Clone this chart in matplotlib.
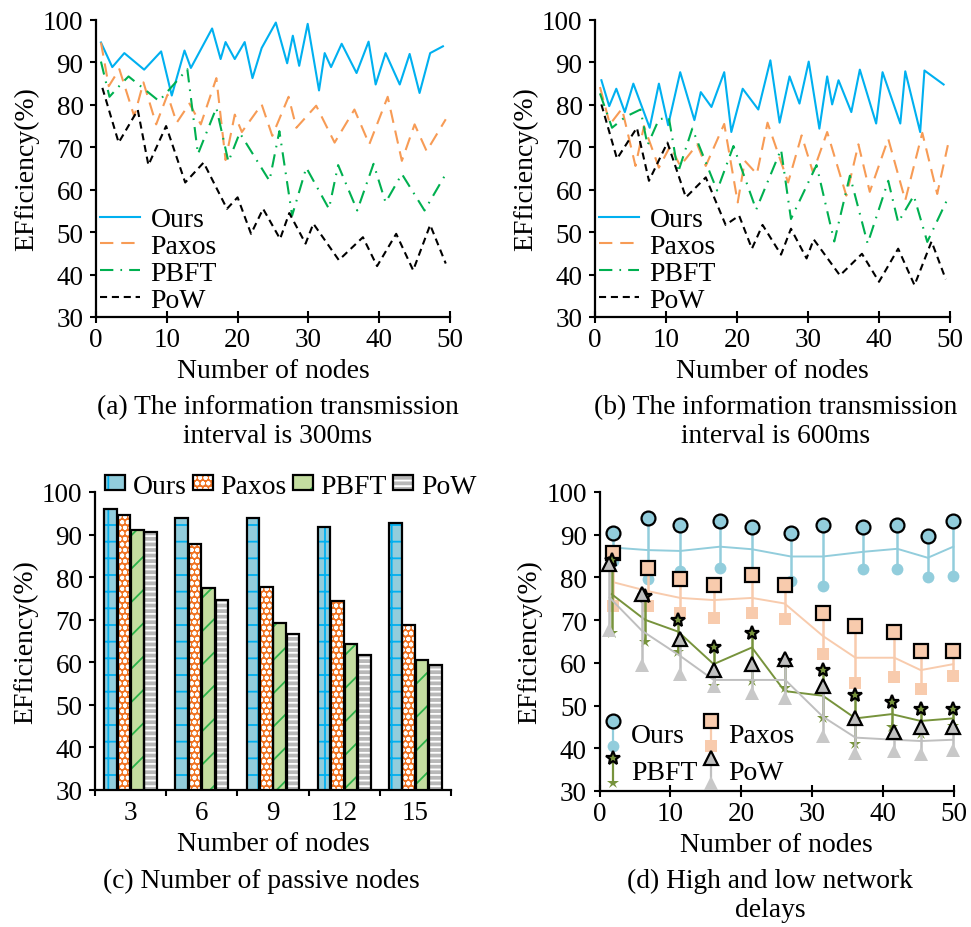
import matplotlib
matplotlib.use('Agg')
import matplotlib.pyplot as plt
from matplotlib.lines import Line2D
from matplotlib.patches import Patch
from matplotlib.legend_handler import HandlerBase

plt.rcParams['font.family'] = ['Liberation Serif', 'DejaVu Serif']
plt.rcParams['hatch.linewidth'] = 1.3

# ---------------- data: panel (a) 300 ms ----------------
a_ours_x = [0.7, 2.3, 4.0, 6.8, 9.2, 10.7, 12.5, 13.4, 16.4, 17.6, 18.3, 19.6, 21.0, 22.1, 23.4,
            25.4, 27.0, 27.8, 28.7, 29.9, 31.5, 32.3, 33.2, 34.7, 36.8, 38.5, 39.5, 40.9, 42.9,
            44.3, 45.7, 47.2, 49.0]
a_ours_y = [94.7, 88.9, 92.2, 88.3, 92.6, 82.2, 92.8, 88.7, 98.0, 90.8, 94.8, 90.8, 94.8, 86.3, 93.4,
            99.4, 89.8, 96.3, 89.2, 99.1, 83.4, 92.2, 88.9, 94.4, 87.5, 94.9, 84.8, 92.2, 84.8,
            92.0, 82.8, 92.2, 93.8]
a_paxos_x = [0.7, 1.8, 3.3, 5.4, 6.7, 8.5, 10.1, 11.4, 13.2, 14.8, 17.0, 18.3, 19.6, 20.6, 23.4,
             24.9, 27.2, 28.3, 31.1, 33.7, 36.5, 38.6, 41.2, 43.2, 45.0, 46.7, 49.4]
a_paxos_y = [94.7, 84.4, 88.4, 77.3, 85.3, 75.4, 82.4, 75.8, 80.3, 75.4, 86.3, 67.0, 77.7, 73.6, 80.1,
             72.7, 81.9, 74.6, 79.8, 71.1, 78.9, 70.7, 81.9, 66.8, 75.4, 69.1, 76.6]
a_pbft_x = [0.7, 1.9, 3.7, 4.6, 8.9, 12.9, 14.4, 17.0, 18.7, 20.3, 24.5, 25.9, 27.7, 29.7, 32.9,
            34.2, 36.9, 39.2, 40.9, 43.2, 46.4, 49.4]
a_pbft_y = [90.2, 81.9, 85.2, 86.7, 80.9, 88.4, 68.4, 79.3, 66.6, 73.4, 62.1, 73.8, 53.9, 65.2, 55.5,
            65.8, 55.1, 66.1, 57.0, 63.7, 55.1, 63.7]
a_pow_x = [0.9, 3.2, 5.9, 7.4, 9.9, 12.6, 15.2, 18.5, 20.0, 21.9, 23.6, 26.0, 27.3, 29.6, 30.7,
           34.3, 37.7, 39.7, 42.4, 44.8, 47.2, 49.4]
a_pow_y = [84.0, 71.1, 78.8, 65.8, 75.0, 61.7, 66.4, 55.5, 58.2, 49.6, 55.5, 48.4, 54.5, 47.3, 52.0,
           43.4, 48.8, 42.0, 49.6, 41.0, 51.7, 42.6]

# ---------------- data: panel (b) 600 ms ----------------
b_ours_x = [0.9, 2.0, 3.0, 4.2, 5.4, 7.7, 9.0, 10.3, 12.0, 14.0, 14.9, 16.4, 18.2, 19.2, 20.8,
            23.0, 24.7, 26.0, 27.4, 28.8, 30.1, 31.6, 32.7, 33.4, 34.3, 36.1, 37.3, 39.6, 40.5,
            43.0, 43.7, 45.8, 46.4, 49.1]
b_ours_y = [85.8, 79.7, 83.8, 78.3, 85.0, 74.6, 85.0, 75.2, 87.7, 76.4, 83.0, 79.5, 87.7, 73.6, 83.8,
            78.9, 90.5, 75.8, 86.7, 80.3, 90.2, 74.4, 86.7, 80.1, 85.8, 78.3, 88.3, 75.6, 87.7,
            75.6, 87.9, 73.6, 88.1, 84.8]
b_paxos_x = [0.7, 2.1, 3.8, 5.7, 6.9, 9.0, 10.6, 12.0, 14.4, 15.6, 18.2, 20.1, 21.1, 22.8, 24.3,
             27.2, 29.1, 30.7, 32.7, 35.4, 37.1, 38.7, 41.3, 43.7, 46.1, 48.2, 49.7]
b_paxos_y = [84.2, 75.4, 79.1, 65.6, 75.0, 65.2, 70.3, 65.6, 70.7, 65.6, 75.5, 57.0, 66.8, 63.7, 75.8,
             61.7, 72.8, 64.1, 73.6, 58.6, 70.7, 59.5, 72.0, 57.5, 73.4, 59.0, 70.5]
b_pbft_x = [0.7, 2.4, 4.3, 6.4, 7.4, 9.0, 10.4, 11.7, 13.7, 17.2, 19.5, 22.7, 26.2, 27.6, 31.2,
            33.7, 35.9, 38.4, 41.3, 42.7, 44.9, 46.8, 49.7]
b_pbft_y = [82.7, 74.6, 77.2, 78.9, 70.5, 76.6, 77.0, 64.1, 74.4, 59.8, 70.3, 55.3, 69.5, 53.1, 65.8,
            47.8, 63.3, 47.3, 62.1, 52.3, 58.6, 47.7, 58.0]
b_pow_x = [0.9, 3.1, 5.9, 7.6, 10.2, 12.8, 15.6, 18.4, 20.3, 22.1, 23.6, 26.2, 27.6, 29.8, 30.8,
           34.5, 37.6, 40.0, 42.7, 45.0, 47.4, 49.4]
b_pow_y = [80.1, 67.3, 74.6, 62.1, 71.1, 58.2, 62.9, 51.7, 53.9, 46.1, 51.7, 44.7, 50.8, 43.8, 48.3,
           39.8, 44.9, 38.3, 46.1, 37.5, 47.8, 38.9]

# ---------------- data: panel (c) passive nodes ----------------
c_categories = ['3', '6', '9', '12', '15']
c_ours = [95.9, 93.8, 94.0, 91.7, 92.8]
c_paxos = [94.7, 87.8, 77.7, 74.5, 68.8]
c_pbft = [91.0, 77.5, 69.2, 64.4, 60.6]
c_pow = [90.5, 74.7, 66.7, 61.7, 59.4]

# ---------------- data: panel (d) high / low delays ----------------
d_ours_x = [1.9, 6.8, 11.4, 17.0, 21.5, 27.0, 31.5, 37.2, 42.0, 46.3, 49.9]
d_ours_high = [90.5, 93.8, 92.3, 93.1, 91.9, 90.3, 92.2, 91.8, 92.3, 89.7, 93.1]
d_ours_low = [83.9, 79.7, 81.5, 82.3, 80.8, 79.2, 78.0, 81.9, 81.9, 80.0, 80.3]
d_ours_mid = [87.0, 86.4, 86.2, 87.2, 86.6, 84.9, 84.9, 86.0, 86.7, 84.6, 87.2]
d_paxos_x = [1.9, 6.8, 11.4, 16.1, 21.5, 26.1, 31.5, 36.1, 41.6, 45.3, 49.9]
d_paxos_high = [85.8, 82.1, 79.7, 78.2, 80.6, 78.2, 71.6, 68.6, 67.2, 62.8, 62.8]
d_paxos_low = [73.2, 73.2, 71.6, 70.6, 71.6, 70.2, 62.0, 55.2, 56.8, 53.8, 56.9]
d_paxos_mid = [78.9, 76.8, 75.2, 74.7, 75.2, 73.9, 66.3, 61.2, 61.2, 58.3, 59.7]
d_pbft_x = [1.7, 6.4, 11.1, 16.1, 21.5, 26.1, 31.5, 36.1, 41.2, 45.3, 49.9]
d_pbft_high = [84.1, 75.7, 70.1, 63.6, 67.1, 60.5, 58.3, 52.4, 50.8, 49.3, 49.3]
d_pbft_low = [67.1, 64.9, 62.6, 54.6, 55.8, 54.2, 47.2, 41.0, 44.9, 43.3, 45.3]
d_pbft_mid = [76.1, 70.1, 67.3, 59.7, 63.6, 53.4, 52.3, 47.0, 48.0, 46.4, 47.0]
d_pow_x = [1.4, 6.0, 11.4, 16.1, 21.5, 26.2, 31.5, 36.1, 41.6, 45.3, 49.9]
d_pow_high = [83.2, 76.1, 65.5, 58.3, 59.7, 60.8, 54.6, 47.2, 43.9, 44.9, 44.9]
d_pow_low = [67.7, 59.5, 57.3, 54.6, 53.0, 51.8, 42.9, 38.8, 39.4, 38.6, 39.6]
d_pow_mid = [75.3, 67.5, 61.6, 56.0, 56.0, 56.0, 47.4, 42.5, 42.0, 41.7, 42.0]

series_names = ['Ours', 'Paxos', 'PBFT', 'PoW']
y_ticks = [30, 40, 50, 60, 70, 80, 90, 100]
x_ticks = [0, 10, 20, 30, 40, 50]

# ---------------- styling ----------------
FS_TICK = 19.5
FS_LAB = 20
FS_LEG = 20
FS_CAP = 19.8

W, H = 971, 928
fig = plt.figure(figsize=(W / 100, H / 100), dpi=100)


def add_axes(l, t, r, b):
    return fig.add_axes([l / W, 1 - b / H, (r - l) / W, (b - t) / H])


axa = add_axes(96, 21, 450, 318)
axb = add_axes(595, 21, 950, 318)
axc = add_axes(95, 493, 451, 791)
axd = add_axes(599.5, 493, 954, 792)


def base_style(ax):
    for s in ['top', 'right']:
        ax.spines[s].set_visible(False)
    for s in ['left', 'bottom']:
        ax.spines[s].set_linewidth(1.6)
    ax.set_ylim(30, 100)
    ax.set_yticks(y_ticks)
    ax.tick_params(axis='y', direction='out', length=4, width=1.5, labelsize=FS_TICK, pad=5)
    ax.set_ylabel('EFficiency(%)', fontsize=FS_LAB, labelpad=3)
    ax.set_xlabel('Number of nodes', fontsize=FS_LAB, labelpad=4.5)


def line_style(ax):
    base_style(ax)
    ax.set_xlim(0, 50)
    ax.set_xticks(x_ticks)
    ax.tick_params(axis='x', direction='inout', length=8, width=1.5, labelsize=FS_TICK, pad=3)


C_OURS = '#00B0F0'
C_PAXOS = '#F79B55'
C_PBFT = '#00B050'
C_POW = 'black'
LW = 1.5

ls_paxos = (0, (6.4, 3.8))
ls_pbft = (0, (6.4, 3.4, 0.8, 3.4))
ls_pow = (0, (3.4, 2.3))

for ax, data in [
    (axa, [(a_ours_x, a_ours_y), (a_paxos_x, a_paxos_y), (a_pbft_x, a_pbft_y), (a_pow_x, a_pow_y)]),
    (axb, [(b_ours_x, b_ours_y), (b_paxos_x, b_paxos_y), (b_pbft_x, b_pbft_y), (b_pow_x, b_pow_y)]),
]:
    line_style(ax)
    ax.plot(*data[0], color=C_OURS, lw=LW, ls='-', label='Ours')
    ax.plot(*data[1], color=C_PAXOS, lw=LW, ls=ls_paxos, label='Paxos')
    ax.plot(*data[2], color=C_PBFT, lw=LW, ls=ls_pbft, label='PBFT')
    ax.plot(*data[3], color=C_POW, lw=LW, ls=ls_pow, label='PoW')
    ax.legend(loc='lower left', bbox_to_anchor=(0.0, 0.0), frameon=False, fontsize=FS_LEG,
              handlelength=1.45, handletextpad=0.36, labelspacing=0.05, borderpad=0.05,
              borderaxespad=0.1)

# ---------------- panel (c) ----------------
base_style(axc)
bar_specs = [
    (c_ours, '#92CDDC', '#00B0F0', '+'),
    (c_paxos, '#F07322', 'white', 'ooo'),
    (c_pbft, '#C4DDA0', '#2DB34A', '/'),
    (c_pow, '#B8B8B8', 'white', '---'),
]
bw = 0.178
offs = [-0.282, -0.094, 0.094, 0.282]
xs = list(range(len(c_categories)))
handles_c = []
for (vals, fc, hc, hatch), off, name in zip(bar_specs, offs, series_names):
    pos = [x + off for x in xs]
    axc.bar(pos, vals, width=bw, color=fc, edgecolor=hc, hatch=hatch, linewidth=0, zorder=2)
    axc.bar(pos, vals, width=bw, fill=False, edgecolor='black', linewidth=1.6, zorder=3)
    handles_c.append((Patch(facecolor=fc, edgecolor=hc, hatch=hatch, linewidth=0),
                      Patch(facecolor='none', edgecolor='black', linewidth=1.6)))
axc.set_xlim(-0.5, 4.5)
axc.set_xticks([-0.5, 0.5, 1.5, 2.5, 3.5, 4.5])
axc.set_xticklabels([])
axc.set_xticks(xs, minor=True)
axc.set_xticklabels(c_categories, minor=True)
axc.tick_params(axis='x', which='major', direction='out', length=4, width=1.5)
axc.tick_params(axis='x', which='minor', length=0, labelsize=FS_TICK, pad=7)
axc.legend(handles_c, series_names, loc='center left', bbox_to_anchor=(0.028, 1.02), ncol=4,
           frameon=False, fontsize=FS_LEG, handlelength=0.72, handleheight=0.45,
           handletextpad=0.28, columnspacing=0.22, borderpad=0, borderaxespad=0)

# ---------------- panel (d) ----------------
line_style(axd)
d_specs = [
    ('Ours', d_ours_x, d_ours_high, d_ours_low, d_ours_mid, '#92CDDC',
     dict(marker='o', markersize=10, mfc='#92CDDC', mec='black', mew=1.6),
     dict(marker='o', markersize=8.5, mfc='#92CDDC', mec='#92CDDC', mew=0)),
    ('Paxos', d_paxos_x, d_paxos_high, d_paxos_low, d_paxos_mid, '#F8CBAD',
     dict(marker='s', markersize=10, mfc='#F8CBAD', mec='black', mew=1.6),
     dict(marker='s', markersize=9, mfc='#F8CBAD', mec='#F8CBAD', mew=0)),
    ('PBFT', d_pbft_x, d_pbft_high, d_pbft_low, d_pbft_mid, '#77933C',
     dict(marker='*', markersize=10.5, mfc='#77933C', mec='black', mew=1.6),
     dict(marker='*', markersize=9, mfc='#77933C', mec='#77933C', mew=0)),
    ('PoW', d_pow_x, d_pow_high, d_pow_low, d_pow_mid, '#BFBFBF',
     dict(marker='^', markersize=10.5, mfc='#BFBFBF', mec='black', mew=1.6),
     dict(marker='^', markersize=9.5, mfc='#C8C8C8', mec='#C8C8C8', mew=0)),
]


class DumbbellKey:
    def __init__(self, color, hi, lo):
        self.color = color
        self.hi = hi
        self.lo = lo


class HandlerDumbbell(HandlerBase):
    def create_artists(self, legend, orig, xdescent, ydescent, width, height, fontsize, trans):
        cx = width / 2 - xdescent
        cy = height / 2 - ydescent
        d = 9.0
        ln = Line2D([cx, cx], [cy - d, cy + d], color=orig.color, lw=1.6, transform=trans)
        lo = Line2D([cx], [cy - d], ls='none', transform=trans, **orig.lo)
        hi = Line2D([cx], [cy + d], ls='none', transform=trans, **orig.hi)
        return [ln, lo, hi]


keys = {}
z = 3
for name, x, hi, lo, mid, col, hi_kw, lo_kw in d_specs:
    axd.vlines(x, lo, hi, colors=col, lw=1.8, zorder=z, clip_on=False)
    axd.plot(x, mid, color=col, lw=1.4, zorder=z, clip_on=False)
    axd.plot(x, lo, ls='none', zorder=z + 0.1, clip_on=False, **lo_kw)
    axd.plot(x, hi, ls='none', zorder=z + 0.2, clip_on=False, **hi_kw)
    keys[name] = DumbbellKey(col, hi_kw, lo_kw)
    z += 1

axd.legend([keys['Ours'], keys['PBFT'], keys['Paxos'], keys['PoW']],
           ['Ours', 'PBFT', 'Paxos', 'PoW'], ncol=2,
           handler_map={DumbbellKey: HandlerDumbbell()},
           loc='lower left', bbox_to_anchor=(0.0, 0.0), frameon=False, fontsize=FS_LEG,
           handlelength=0.6, handleheight=1.25, labelspacing=0.25, handletextpad=0.33,
           columnspacing=0.2, borderpad=0, borderaxespad=0.2).set_zorder(10)

# ---------------- captions ----------------
fig.text(277.5 / W, 1 - 422 / H, '(a) The information transmission\ninterval is 300ms',
         ha='center', va='center', fontsize=FS_CAP, linespacing=1.25)
fig.text(776 / W, 1 - 422 / H, '(b) The information transmission\ninterval is 600ms',
         ha='center', va='center', fontsize=FS_CAP, linespacing=1.25)
fig.text(261.5 / W, 1 - 881 / H, '(c) Number of passive nodes',
         ha='center', va='center', fontsize=FS_CAP)
fig.text(770 / W, 1 - 896 / H, '(d) High and low network\ndelays',
         ha='center', va='center', fontsize=FS_CAP, linespacing=1.25)

fig.savefig('out.png', dpi=100)
